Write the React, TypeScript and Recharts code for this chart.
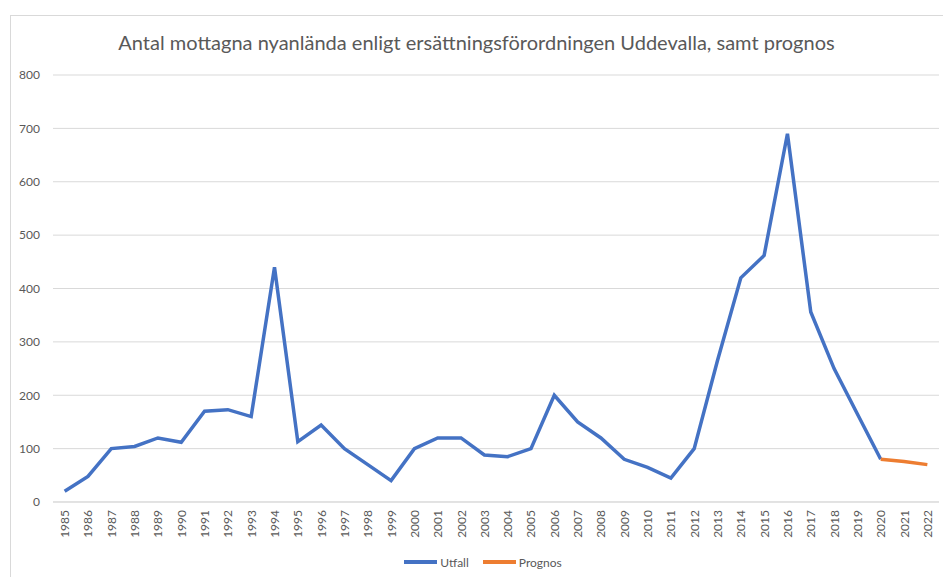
import React from 'react';
import { LineChart, Line, XAxis, YAxis, CartesianGrid, Legend } from 'recharts';

const years = ['1985','1986','1987','1988','1989','1990','1991','1992','1993','1994','1995','1996','1997','1998','1999','2000','2001','2002','2003','2004','2005','2006','2007','2008','2009','2010','2011','2012','2013','2014','2015','2016','2017','2018','2019','2020','2021','2022'];
const utfall: (number | null)[] = [20,48,100,104,120,112,170,173,160,440,113,144,100,70,40,100,120,120,88,85,100,200,150,120,80,65,45,100,265,420,462,690,356,250,165,80,null,null];
const prognos: (number | null)[] = [null,null,null,null,null,null,null,null,null,null,null,null,null,null,null,null,null,null,null,null,null,null,null,null,null,null,null,null,null,null,null,null,null,null,null,80,76,70];
const yTicks = [0,100,200,300,400,500,600,700,800];
const title = 'Antal mottagna nyanlända enligt ersättningsförordningen Uddevalla, samt prognos';

const data = years.map((y, i) => ({ year: y, Utfall: utfall[i], Prognos: prognos[i] }));

const FONT = 'Lato, "Liberation Sans", sans-serif';
const TXT = '#595959';

const XTick = (props: any) => {
  const { x, y, payload } = props;
  return (
    <text x={x} y={y} transform={`rotate(-90, ${x}, ${y})`} textAnchor="end" dominantBaseline="central" fill={TXT} fontSize={12} fontFamily={FONT}>
      {payload.value}
    </text>
  );
};

const LegendContent = () => (
  <div style={{ display: 'flex', justifyContent: 'center', alignItems: 'center', height: 20, fontFamily: FONT, fontSize: 12, color: TXT, paddingLeft: 14 }}>
    <span style={{ display: 'inline-block', width: 33, height: 4, background: '#4472C4', marginRight: 3 }} />
    <span style={{ marginRight: 14 }}>Utfall</span>
    <span style={{ display: 'inline-block', width: 33, height: 4, background: '#ED7D31', marginRight: 3 }} />
    <span>Prognos</span>
  </div>
);

export default function App() {
  return (
    <div style={{ position: 'absolute', left: 0, top: 0, width: 943, height: 577, background: '#fff' }}>
      <div style={{ position: 'absolute', left: 10, top: 15, width: 940, height: 570, border: '1px solid #d9d9d9' }} />
      <div style={{ position: 'absolute', left: 0, top: 30, width: 953, textAlign: 'center', fontFamily: FONT, fontSize: 20, color: TXT }}>
        {title}
      </div>
      <div style={{ position: 'absolute', left: 0, top: 0 }}>
        <LineChart width={943} height={577} data={data} margin={{ top: 75, right: 4, left: 13, bottom: 5 }}>
          <CartesianGrid vertical={false} stroke="#d9d9d9" strokeWidth={1} />
          <XAxis dataKey="year" interval={0} tick={<XTick />} tickLine={false} axisLine={{ stroke: '#d9d9d9' }} height={50} padding={{ left: 11.65, right: 11.65 }} tickSize={0} tickMargin={8} />
          <YAxis domain={[0, 800]} ticks={yTicks} width={40} axisLine={false} tickLine={false} tickSize={0} tickMargin={13} tick={{ fill: TXT, fontSize: 12, fontFamily: FONT }} />
          <Legend verticalAlign="bottom" height={20} content={<LegendContent />} />
          <Line type="linear" dataKey="Utfall" stroke="#4472C4" strokeWidth={3.5} dot={false} isAnimationActive={false} connectNulls={false} />
          <Line type="linear" dataKey="Prognos" stroke="#ED7D31" strokeWidth={3.5} dot={false} isAnimationActive={false} connectNulls={false} />
        </LineChart>
      </div>
    </div>
  );
}
